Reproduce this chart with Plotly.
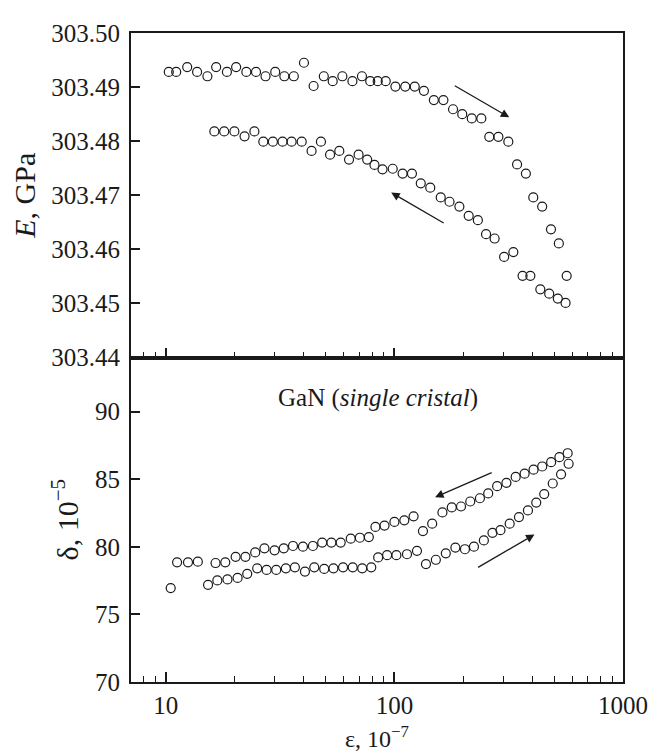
import math
import plotly.graph_objects as go

# ---- data: top panel (E, GPa) ----
x_E_forward = [10.3, 11.1, 12.4, 13.7, 15.2, 16.6, 18.5, 20.3, 22.5, 24.8,
               27.3, 30.1, 33.0, 36.3, 40.2, 44.3, 49.1, 53.7, 59.2, 65.5,
               72.1, 78.4, 84.5, 91.6, 101, 111.5, 122.7, 134.6, 148.8, 163.8,
               180.5, 198, 218, 240, 260, 285, 315, 344, 376, 405,
               443, 484, 524, 567]
E_forward = [303.4928, 303.4928, 303.4937, 303.4928, 303.4920, 303.4937, 303.4928, 303.4937, 303.4928, 303.4928,
             303.4920, 303.4928, 303.4920, 303.4920, 303.4945, 303.4902, 303.4920, 303.4911, 303.4920, 303.4911,
             303.4920, 303.4911, 303.4911, 303.4911, 303.4901, 303.4901, 303.4901, 303.4893, 303.4876, 303.4876,
             303.4859, 303.4850, 303.4842, 303.4842, 303.4808, 303.4808, 303.4799, 303.4757, 303.4740, 303.4696,
             303.4679, 303.4637, 303.4611, 303.4551]

x_E_return = [16.3, 18.0, 19.95, 22.1, 24.4, 26.7, 29.4, 32.4, 35.5, 39.3,
              43.4, 47.7, 52.3, 57.4, 63.3, 69.7, 76.0, 81.8, 88.7, 98.3,
              108.6, 119.3, 130.4, 143.5, 159.4, 174.2, 192.4, 211.3, 231.8, 251.7,
              274.4, 302, 331.4, 363.6, 393.3, 434.8, 475.5, 518.6, 560.7]
E_return = [303.4818, 303.4818, 303.4818, 303.4809, 303.4818, 303.4799, 303.4799, 303.4799, 303.4799, 303.4799,
            303.4782, 303.4799, 303.4775, 303.4782, 303.4766, 303.4775, 303.4766, 303.4756, 303.4748, 303.4749,
            303.4740, 303.4740, 303.4722, 303.4714, 303.4696, 303.4688, 303.4679, 303.4662, 303.4654, 303.4628,
            303.4620, 303.4586, 303.4595, 303.4551, 303.4551, 303.4526, 303.4518, 303.4509, 303.4501]

# ---- data: bottom panel (delta, 1e-5) ----
x_d_return = [11.2, 12.5, 13.8, 16.5, 18.2, 20.2, 22.3, 24.6, 27.0, 29.9,
              32.8, 36.0, 39.8, 44.0, 48.3, 53.0, 58.2, 64.4, 70.6, 77.3,
              82.6, 90.5, 100, 110.5, 121.3, 133.3, 146.3, 162.2, 178.2, 195.6,
              214.7, 236.6, 257.2, 281.4, 309.1, 339.2, 371.2, 406.2, 443.1, 484.8,
              526.9, 572.7]
d_return = [78.85, 78.85, 78.90, 78.80, 78.85, 79.26, 79.26, 79.58, 79.89, 79.74,
            79.89, 80.06, 80.01, 80.06, 80.31, 80.31, 80.31, 80.60, 80.67, 80.72,
            81.47, 81.57, 81.84, 81.96, 82.25, 81.16, 81.71, 82.54, 82.91, 82.98,
            83.35, 83.59, 83.95, 84.48, 84.73, 85.17, 85.41, 85.70, 85.94, 86.26,
            86.63, 86.92]

x_d_forward = [10.5, 15.3, 16.8, 18.6, 20.6, 22.7, 25.1, 27.6, 30.4, 33.5,
               36.7, 40.6, 44.6, 49.3, 54.1, 59.6, 65.7, 72.3, 79.2, 84.9,
               92.9, 102, 113.5, 125.5, 137.4, 151.8, 167.8, 184.8, 203.5, 222.8,
               246.2, 268.5, 291, 319.3, 350.6, 383.9, 417.3, 452.2, 492.7, 535.8,
               578.1]
d_forward = [76.95, 77.19, 77.51, 77.59, 77.70, 78.00, 78.41, 78.29, 78.29, 78.41,
             78.48, 78.17, 78.48, 78.36, 78.41, 78.48, 78.48, 78.41, 78.48, 79.21,
             79.38, 79.38, 79.45, 79.70, 78.72, 79.04, 79.52, 79.94, 79.82, 80.01,
             80.47, 81.03, 81.23, 81.71, 82.20, 82.69, 83.27, 83.90, 84.68, 85.36,
             86.14]

# tick labels
x_tickvals = [10, 100, 1000]
x_ticktext = ["10", "100", "1000"]
x_minor = [8, 9] + [v * 10 for v in range(2, 10)] + [v * 100 for v in range(2, 10)]
E_ticks = [303.44, 303.45, 303.46, 303.47, 303.48, 303.49, 303.50]
d_ticks = [70, 75, 80, 85, 90]

# arrows: (tail x, tail y, head x, head y)
arrows_top = [(181, 303.4904, 318, 303.4844), (166.7, 303.4647, 96.8, 303.4705)]
arrows_bottom = [(270.4, 85.53, 150.6, 83.66), (228.8, 78.41, 410, 80.91)]

INK = "#1a1a1a"
FONT = "Liberation Serif"

marker = dict(symbol="circle-open", size=9, color=INK, line=dict(width=1.2, color=INK))

fig = go.Figure()
fig.add_trace(go.Scatter(x=x_E_forward, y=E_forward, mode="markers", marker=marker,
                         xaxis="x2", yaxis="y2", showlegend=False))
fig.add_trace(go.Scatter(x=x_E_return, y=E_return, mode="markers", marker=marker,
                         xaxis="x2", yaxis="y2", showlegend=False))
fig.add_trace(go.Scatter(x=x_d_return, y=d_return, mode="markers", marker=marker,
                         xaxis="x", yaxis="y", showlegend=False))
fig.add_trace(go.Scatter(x=x_d_forward, y=d_forward, mode="markers", marker=marker,
                         xaxis="x", yaxis="y", showlegend=False))

xrange = [math.log10(7.04), 3]
common_x = dict(type="log", range=xrange, tickvals=x_tickvals, ticktext=x_ticktext,
                ticks="inside", ticklen=10, tickwidth=1.5, tickcolor=INK,
                showline=True, linewidth=2, linecolor=INK, mirror=True,
                showgrid=False, zeroline=False,
                minor=dict(ticks="inside", ticklen=6, tickwidth=1.3, tickcolor=INK,
                           tickvals=x_minor, showgrid=False))

annotations = []
for (tx, ty, hx, hy) in arrows_top:
    annotations.append(dict(x=math.log10(hx), y=hy, ax=math.log10(tx), ay=ty,
                            xref="x2", yref="y2", axref="x2", ayref="y2",
                            showarrow=True, arrowhead=2, arrowsize=1.3, arrowwidth=1.3,
                            arrowcolor=INK, text=""))
for (tx, ty, hx, hy) in arrows_bottom:
    annotations.append(dict(x=math.log10(hx), y=hy, ax=math.log10(tx), ay=ty,
                            xref="x", yref="y", axref="x", ayref="y",
                            showarrow=True, arrowhead=2, arrowsize=1.3, arrowwidth=1.3,
                            arrowcolor=INK, text=""))
annotations.append(dict(x=math.log10(84.7), y=91.0, xref="x", yref="y",
                        text="GaN (<i>single cristal</i>)", showarrow=False,
                        font=dict(family=FONT, size=25, color=INK)))
# x-axis title (as annotation, so it is not clamped to the margin edge)
annotations.append(dict(x=0.5, y=-0.0848, xref="paper", yref="paper",
                        xanchor="center", yanchor="middle", borderpad=0,
                        text="ε, 10<sup>−7</sup>", showarrow=False,
                        font=dict(family=FONT, size=24, color=INK)))

# page has an 8 px body margin, so the figure is 8 px smaller than the window
fig.update_layout(
    width=655, height=746,
    margin=dict(l=121, r=40, t=14, b=72),
    paper_bgcolor="white", plot_bgcolor="white",
    font=dict(family=FONT, size=25, color=INK),
    xaxis=dict(domain=[0, 1], anchor="y", ticklabelstandoff=0,
               **common_x),
    xaxis2=dict(domain=[0, 1], anchor="y2", matches="x", showticklabels=False,
                **common_x),
    yaxis=dict(domain=[0, 0.5], anchor="x", range=[70, 94], tickvals=d_ticks,
               ticks="inside", ticklen=9, tickwidth=1.5, tickcolor=INK,
               ticklabelstandoff=4,
               showline=True, linewidth=2, linecolor=INK, mirror=True,
               showgrid=False, zeroline=False,
               title=dict(text="δ, 10<sup>−5</sup>", standoff=8)),
    yaxis2=dict(domain=[0.5, 1], anchor="x2", range=[303.44, 303.50], tickvals=E_ticks,
                tickformat=".2f",
                ticks="inside", ticklen=9, tickwidth=1.5, tickcolor=INK,
                ticklabelstandoff=4,
                showline=True, linewidth=2, linecolor=INK, mirror=True,
                showgrid=False, zeroline=False,
                title=dict(text="<i>E</i>, GPa", standoff=10)),
    annotations=annotations,
)

fig.write_html("out.html")
